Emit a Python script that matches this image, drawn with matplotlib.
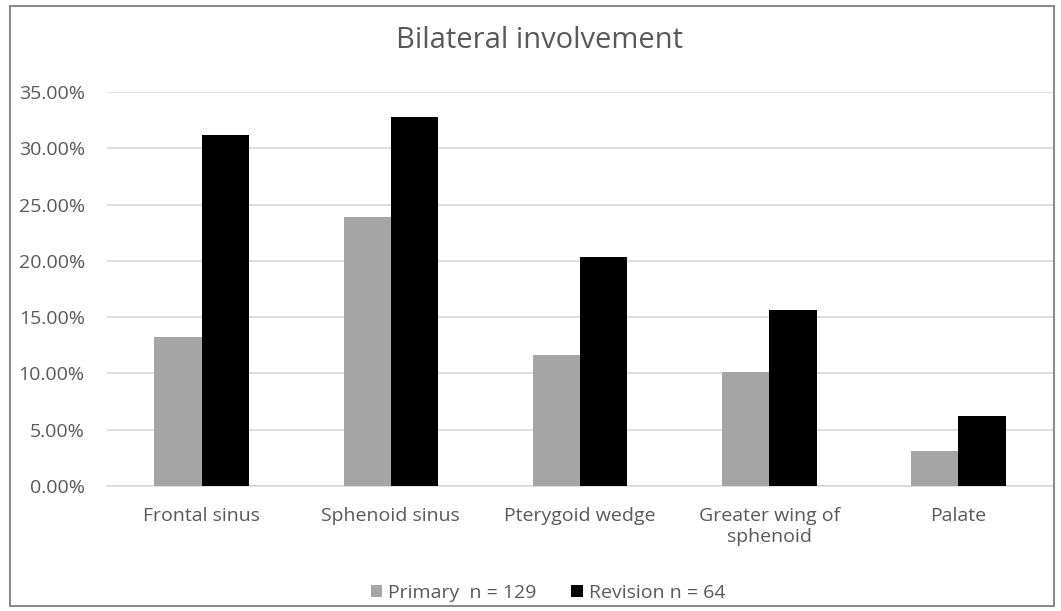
import numpy as np
import matplotlib.pyplot as plt
from matplotlib.patches import Rectangle, Patch
from matplotlib.ticker import FuncFormatter

categories = ["Frontal sinus", "Sphenoid sinus", "Pterygoid wedge",
              "Greater wing of\nsphenoid", "Palate"]
primary = [13.2, 23.9, 11.6, 10.1, 3.1]
revision = [31.2, 32.8, 20.3, 15.6, 6.2]
series_labels = ["Primary  n = 129", "Revision n = 64"]
y_ticks = [0, 5, 10, 15, 20, 25, 30, 35]

TEXT = "#595959"
GRID = "#d9d9d9"
GRAY = "#a5a5a5"
BLACK = "#000000"

plt.rcParams["font.family"] = ["Open Sans", "DejaVu Sans"]

W, H = 1061, 611
fig = plt.figure(figsize=(W / 100, H / 100), dpi=100)
ax = fig.add_axes([107 / W, (H - 486) / H, (1053 - 107) / W, (486 - 92) / H])

x = np.arange(len(categories))
bw = 0.25
ax.bar(x - bw / 2, primary, width=bw, color=GRAY, zorder=3)
ax.bar(x + bw / 2, revision, width=bw, color=BLACK, zorder=3)

ax.set_xlim(-0.5, len(categories) - 0.5)
ax.set_ylim(0, 35)
ax.set_yticks(y_ticks)
ax.yaxis.set_major_formatter(FuncFormatter(lambda v, p: f"{v:.2f}%"))
ax.set_xticks(x)
ax.set_xticklabels(categories, linespacing=1.25)

for s in ["top", "right", "left"]:
    ax.spines[s].set_visible(False)
ax.spines["bottom"].set_color(GRID)
ax.spines["bottom"].set_linewidth(1.2)
ax.grid(axis="y", color=GRID, linewidth=1.2, zorder=0)
ax.tick_params(axis="both", length=0, colors=TEXT, labelsize=14)
ax.tick_params(axis="y", pad=16)
ax.tick_params(axis="x", pad=15)

fig.text(540 / W, 1 - 40 / H, "Bilateral involvement", ha="center", va="center",
         fontsize=21, color=TEXT)

handles = [Patch(facecolor=GRAY, edgecolor="none"), Patch(facecolor=BLACK, edgecolor="none")]
fig.legend(handles, series_labels, loc="center", bbox_to_anchor=(548 / W, 1 - 593 / H),
           ncol=2, frameon=False, fontsize=14, labelcolor=TEXT,
           handlelength=0.6, handleheight=0.6, handletextpad=0.3, columnspacing=1.8)

fig.patches.append(Rectangle((10 / W, 1 - 606 / H), (1054 - 10) / W, (606 - 6) / H,
                             transform=fig.transFigure, fill=False,
                             edgecolor="#8c8c8c", linewidth=1.5))

fig.savefig("out.png", dpi=100)
